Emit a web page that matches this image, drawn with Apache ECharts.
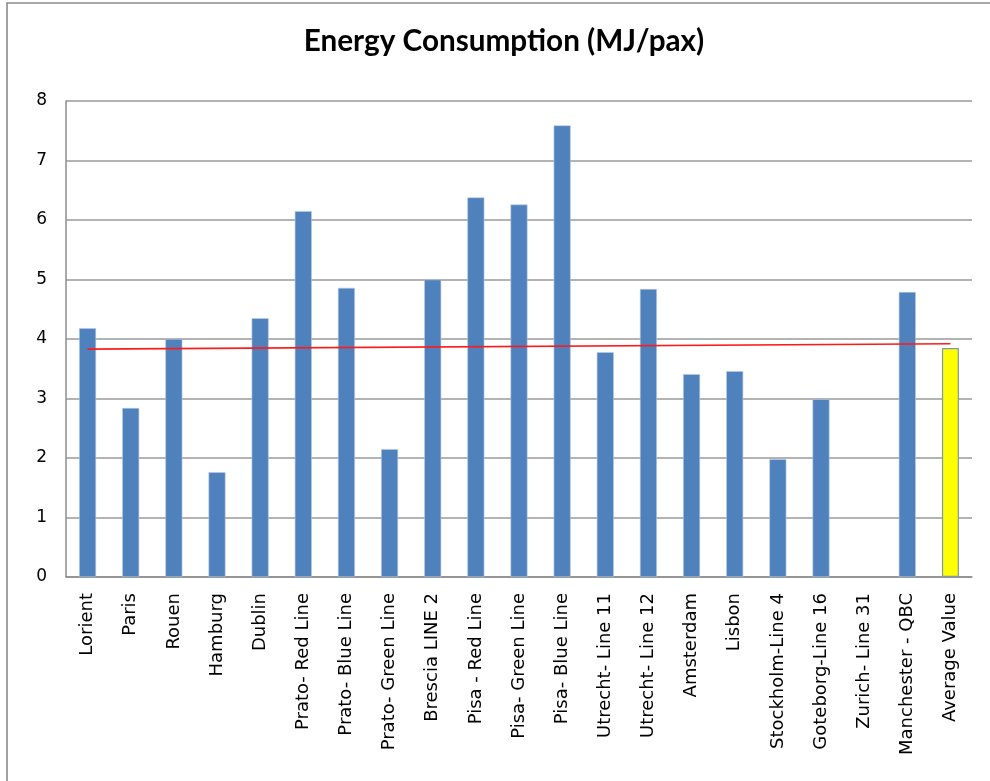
<!DOCTYPE html>
<html>
<head>
<meta charset="utf-8">
<style>
  html, body { margin: 0; padding: 0; background: #ffffff; }
  #chart { width: 990px; height: 781px; }
</style>
<script src="https://cdn.jsdelivr.net/npm/echarts@6/dist/echarts.min.js"></script>
</head>
<body>
<div id="chart"></div>
<script>
// Energy consumption per passenger for each line / city (MJ/pax)
const categories = [
  'Lorient', 'Paris', 'Rouen', 'Hamburg', 'Dublin',
  'Prato- Red Line', 'Prato- Blue Line', 'Prato- Green Line', 'Brescia LINE 2',
  'Pisa - Red Line', 'Pisa- Green Line', 'Pisa- Blue Line',
  'Utrecht- Line 11', 'Utrecht- Line 12', 'Amsterdam', 'Lisbon',
  'Stockholm-Line 4', 'Goteborg-Line 16', 'Zurich- Line 31',
  'Manchester - QBC', 'Average Value'
];
const energyValues = [
  4.18, 2.84, 4.00, 1.76, 4.35,
  6.15, 4.86, 2.15, 5.00,
  6.38, 6.26, 7.59,
  3.78, 4.84, 3.41, 3.46,
  1.98, 2.99, null,
  4.79, 3.85
];
// Linear trend across the categories: value at the first and last category
const trendStart = 3.83;
const trendEnd = 3.92;
const yTicks = [0, 1, 2, 3, 4, 5, 6, 7, 8];

const averageName = 'Average Value';
const barData = energyValues.map((v, i) => {
  if (categories[i] === averageName) {
    return { value: v, itemStyle: { color: '#FFFF00', borderColor: '#8096b4', borderWidth: 1.2 } };
  }
  return v;
});
const trendData = categories.map((c, i) =>
  i === 0 ? trendStart : (i === categories.length - 1 ? trendEnd : null));

const chart = echarts.init(document.getElementById('chart'), null, { renderer: 'canvas' });
chart.setOption({
  animation: false,
  backgroundColor: '#ffffff',
  graphic: [{
    type: 'rect',
    shape: { x: 7, y: 3, width: 1100, height: 900 },
    style: { fill: 'none', stroke: '#8a8a8a', lineWidth: 1.6 },
    silent: true,
    z: -1
  }],
  title: {
    text: 'Energy Consumption (MJ/pax)',
    left: 499,
    textAlign: 'center',
    top: 21,
    textStyle: { fontFamily: 'Lato', fontWeight: 'bold', fontSize: 29.7, color: '#000000' }
  },
  grid: { left: 66, right: 18, top: 101, bottom: 204, containLabel: false },
  xAxis: {
    type: 'category',
    data: categories,
    axisLine: { lineStyle: { color: '#8c8c8c', width: 1.5 } },
    axisTick: { show: false },
    axisLabel: {
      interval: 0,
      rotate: 90,
      margin: 16,
      fontFamily: 'DejaVu Sans',
      fontSize: 18,
      color: '#000000'
    }
  },
  yAxis: {
    type: 'value',
    min: yTicks[0],
    max: yTicks[yTicks.length - 1],
    interval: 1,
    axisLine: { show: true, lineStyle: { color: '#8c8c8c', width: 1.5 } },
    axisTick: { show: false },
    splitLine: { lineStyle: { color: '#9a9a9a', width: 1.5 } },
    axisLabel: {
      margin: 19,
      padding: [5, 0, 0, 0],
      fontFamily: 'DejaVu Sans',
      fontSize: 17,
      color: '#000000'
    }
  },
  series: [
    {
      type: 'bar',
      data: barData,
      barWidth: 17,
      itemStyle: { color: '#4F81BD', borderColor: '#b9cbe2', borderWidth: 0.6 }
    },
    {
      type: 'line',
      data: trendData,
      connectNulls: true,
      symbol: 'none',
      lineStyle: { color: '#FF1a1a', width: 1.6 },
      z: 3
    }
  ]
});
</script>
</body>
</html>
